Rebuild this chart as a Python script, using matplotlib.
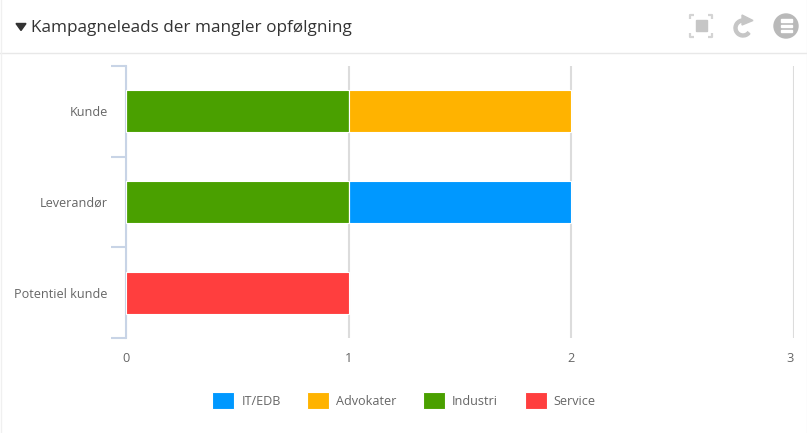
import matplotlib
matplotlib.use("Agg")
import matplotlib.pyplot as plt
from matplotlib.patches import Polygon, Rectangle, Circle, Wedge

plt.rcParams['font.family'] = ['Open Sans', 'DejaVu Sans']

title = "Kampagneleads der mangler opfølgning"
categories = ["Kunde", "Leverandør", "Potentiel kunde"]
industri = [1, 1, 0]
it_edb = [0, 1, 0]
advokater = [1, 0, 0]
service = [0, 0, 1]
xticks = [0, 1, 2, 3]

W, H = 807, 433
fig = plt.figure(figsize=(W / 100, H / 100), dpi=100, facecolor="white")

# overlay in pixel coordinates for the panel chrome
ov = fig.add_axes([0, 0, 1, 1], zorder=0)
ov.set_xlim(0, W)
ov.set_ylim(H, 0)
ov.axis("off")
ov.plot([0, W], [52.5, 52.5], color="#e8e8e8", lw=1)
ov.plot([0.5, 0.5], [0, H], color="#f0f0f0", lw=1)
ov.plot([W - 0.5, W - 0.5], [0, H], color="#f0f0f0", lw=1)
ov.add_patch(Polygon([[16, 23.5], [26, 23.5], [21, 30.5]], color="#333333"))
ov.text(31, 28, title, fontsize=12.3, color="#333333", va="center", ha="left")

g = "#c6c6c6"
# fullscreen icon
ov.add_patch(Rectangle((696, 20), 11, 11, color=g))
for x, y, dx, dy in [(690, 15, 1, 1), (712, 15, -1, 1), (690, 37, 1, -1), (712, 37, -1, -1)]:
    ov.plot([x + dx * 4, x, x], [y, y, y + dy * 4], color="#d4d4d4", lw=1.6, solid_capstyle="butt")
# refresh icon
ov.add_patch(Wedge((743, 28), 9, 40, 275, width=3, color=g))
ov.add_patch(Polygon([[742, 15], [753, 20.5], [742, 25]], color=g))
# menu icon
ov.add_patch(Circle((786, 26), 12, color="#b9b9b9"))
for y in (20.5, 25.8, 31):
    ov.add_patch(Rectangle((780.5, y - 1.1), 11.5, 2.2, color="white"))

L, R, T, B = 126.4, 794, 66, 338
ax = fig.add_axes([L / W, 1 - B / H, (R - L) / W, (B - T) / H], zorder=1)
ax.patch.set_alpha(0)

pos = list(range(len(categories)))
h = 0.46
edge = dict(edgecolor="white", linewidth=0.8)
b_ind = ax.barh(pos, industri, height=h, color="#4aa000", label="Industri", zorder=3, **edge)
b_it = ax.barh(pos, it_edb, left=industri, height=h, color="#0098ff", label="IT/EDB", zorder=3, **edge)
b_adv = ax.barh(pos, advokater, left=industri, height=h, color="#ffb300", label="Advokater", zorder=3, **edge)
b_srv = ax.barh(pos, service, height=h, color="#ff3e3e", label="Service", zorder=3, **edge)

ax.set_xlim(xticks[0], xticks[-1])
ax.set_ylim(len(categories) - 0.5, -0.5)

for s in ("top", "right", "bottom"):
    ax.spines[s].set_visible(False)
ax.spines["left"].set_color("#c8d4e6")
ax.spines["left"].set_linewidth(1.5)

ax.set_xticks(xticks)
ax.tick_params(axis="x", length=0, pad=10, labelsize=9.2, labelcolor="#666666")
ax.get_xticklabels()[-1].set_ha("right")
ax.grid(axis="x", color="#dcdcdc", lw=1.5, zorder=1)
ax.set_axisbelow(True)

ax.set_yticks([p - 0.5 for p in pos] + [pos[-1] + 0.5])
ax.set_yticklabels([])
ax.tick_params(axis="y", which="major", length=11, width=1.5, color="#c8d4e6")
ax.set_yticks(pos, minor=True)
ax.set_yticklabels(categories, minor=True)
ax.tick_params(axis="y", which="minor", length=0, pad=13.5, labelsize=9.1, labelcolor="#666666")

fig.legend([b_it, b_adv, b_ind, b_srv], ["IT/EDB", "Advokater", "Industri", "Service"],
           ncol=4, frameon=False, loc="center", bbox_to_anchor=(404 / W, 1 - 400.5 / H),
           fontsize=9.1, labelcolor="#666666", handlelength=1.74, handleheight=1.8,
           handletextpad=0.55, columnspacing=2.1, borderpad=0)

fig.savefig("out.png", dpi=100, facecolor="white")
